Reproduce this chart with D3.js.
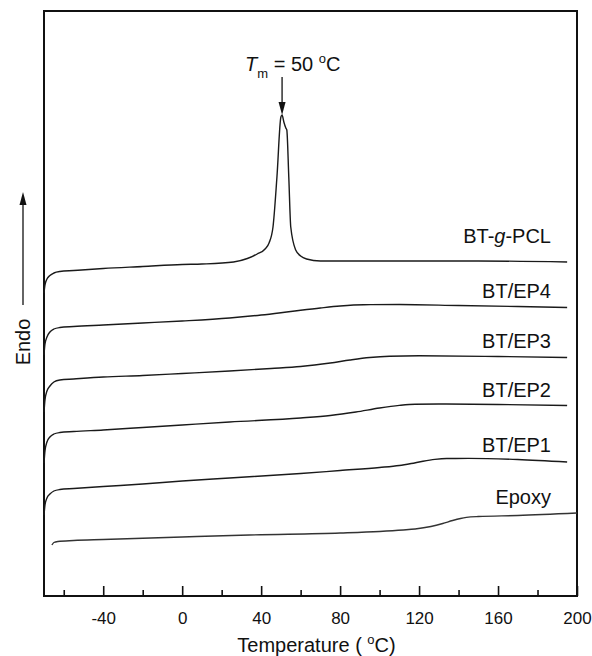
<!DOCTYPE html>
<html>
<head>
<meta charset="utf-8">
<script src="https://cdn.jsdelivr.net/npm/d3@7"></script>
<style>
  body { margin: 0; background: #fff; }
  text, tspan { font-family: "Liberation Sans", Arial, sans-serif; fill: #111; }
</style>
</head>
<body>
<div id="chart"></div>
<script>
// DSC traces, heat flow in arbitrary units (offset stacked), temperature in degC
const pclTemp = [-70, -69.5, -68.5, -67, -65, -62, -55, -40, -20, 0, 10, 26, 33, 38, 42, 44, 46, 48, 50, 50.6, 51.5, 52.5, 53, 54, 55, 57.5, 60, 63, 70, 100, 150, 195];
const pclFlow = [303, 311, 317, 320.5, 323, 324.5, 325.5, 327.5, 329.5, 331.5, 332, 334, 337.5, 342, 347, 353, 369, 419, 479, 481, 474, 468, 466, 419, 369, 346, 340, 337, 335, 335, 335, 334];

const ep4Temp = [-70, -69.5, -68.5, -67, -65, -62, -55, -40, -20, 0, 24, 40, 55, 70, 80, 92, 110, 140, 170, 195];
const ep4Flow = [241, 252, 259, 264, 267, 268.5, 269.5, 271, 273, 275, 278, 281, 284.5, 288, 290, 291.3, 291.5, 290.5, 289.5, 288.5];

const ep3Temp = [-70, -69.5, -68.5, -67, -65, -62, -55, -40, -20, 0, 24, 45, 60, 75, 85, 95, 105, 120, 160, 195];
const ep3Flow = [184, 196, 205, 210, 214, 216, 217, 219, 220.5, 222.5, 225, 227.5, 229.5, 233, 236, 238.5, 239.8, 240.2, 239.5, 238.5];

const ep2Temp = [-70, -69.5, -68.5, -67, -65, -62, -55, -40, -20, 0, 24, 60, 75, 88, 100, 110, 118, 130, 160, 195];
const ep2Flow = [133, 145, 154, 159, 162, 163.5, 164.5, 166, 168.5, 171, 174, 178, 180.5, 184, 188, 190.6, 191.8, 192, 191.5, 190.5];

const ep1Temp = [-70, -69.5, -68.5, -67, -65, -62, -55, -40, -20, 0, 24, 60, 80, 100, 110, 116, 122, 128, 134, 145, 170, 195];
const ep1Flow = [81, 91, 98, 102, 105, 106.5, 107.5, 109.5, 112, 115, 118, 122.5, 125.5, 128.5, 130.5, 132.5, 134.8, 136.6, 137.5, 137.6, 136.5, 134];

const epoxyTemp = [-66, -65, -63, -55, -40, 0, 34, 80, 100, 112, 118, 126, 132, 137, 141, 144, 150, 170, 200];
const epoxyFlow = [51, 53.5, 54.5, 55.5, 56.5, 59, 61, 63, 64.5, 66, 67, 69.5, 72.5, 75.5, 77.5, 78.6, 79.5, 80.5, 83];

const seriesNames = ["BT-g-PCL", "BT/EP4", "BT/EP3", "BT/EP2", "BT/EP1", "Epoxy"];
const majorTicks = [-40, 0, 40, 80, 120, 160, 200];
const minorTicks = [-60, -20, 20, 60, 100, 140, 180];
const meltTemp = 50;

const series = [
  {name: seriesNames[0], temp: pclTemp, flow: pclFlow},
  {name: seriesNames[1], temp: ep4Temp, flow: ep4Flow},
  {name: seriesNames[2], temp: ep3Temp, flow: ep3Flow},
  {name: seriesNames[3], temp: ep2Temp, flow: ep2Flow},
  {name: seriesNames[4], temp: ep1Temp, flow: ep1Flow},
  {name: seriesNames[5], temp: epoxyTemp, flow: epoxyFlow}
];
// gap between end of trace and label baseline (px)
const labelGap = [19, 10, 10, 9, 10, 11];

const width = 592, height = 656;
const margin = {top: 11, right: 15, bottom: 60, left: 44};

const svg = d3.select("#chart").append("svg")
    .attr("width", width)
    .attr("height", height);

const x = d3.scaleLinear().domain([-70, 200]).range([margin.left, width - margin.right]);
const y = d3.scaleLinear().domain([0, 585]).range([height - margin.bottom, margin.top]);

// major ticks (inward) with labels
const xAxis = svg.append("g")
    .attr("transform", `translate(0,${height - margin.bottom})`)
    .call(d3.axisBottom(x).tickValues(majorTicks).tickSize(-10).tickSizeOuter(0)
        .tickPadding(8).tickFormat(d => String(d)));
xAxis.select(".domain").remove();
xAxis.selectAll(".tick line").attr("stroke", "#111").attr("stroke-width", 1.6);
xAxis.selectAll(".tick text").attr("dy", "1.15em")
    .style("font-size", "17px").style("font-family", '"Liberation Sans", Arial, sans-serif').attr("fill", "#111");

// minor ticks
const xMinor = svg.append("g")
    .attr("transform", `translate(0,${height - margin.bottom})`)
    .call(d3.axisBottom(x).tickValues(minorTicks).tickSize(-6).tickSizeOuter(0).tickFormat(""));
xMinor.select(".domain").remove();
xMinor.selectAll(".tick line").attr("stroke", "#111").attr("stroke-width", 1.6);

// frame
svg.append("rect")
    .attr("x", margin.left)
    .attr("y", margin.top)
    .attr("width", width - margin.left - margin.right)
    .attr("height", height - margin.top - margin.bottom)
    .attr("fill", "none")
    .attr("stroke", "#111")
    .attr("stroke-width", 2);

// traces
const line = d3.line()
    .x(d => x(d[0]))
    .y(d => y(d[1]))
    .curve(d3.curveMonotoneX);

series.forEach((s, i) => {
  const pts = s.temp.map((t, j) => [t, s.flow[j]]);
  svg.append("path")
      .datum(pts)
      .attr("fill", "none")
      .attr("stroke", i === 5 ? "#333" : "#1a1a1a")
      .attr("stroke-width", 1.4)
      .attr("d", line);

  const last = pts[pts.length - 1];
  const lbl = svg.append("text")
      .attr("x", 551)
      .attr("y", y(i === 5 ? 81 : last[1]) - labelGap[i])
      .attr("text-anchor", "end")
      .style("font-size", "20px");
  if (s.name === "BT-g-PCL") {
    lbl.append("tspan").text("BT-");
    lbl.append("tspan").style("font-style", "italic").text("g");
    lbl.append("tspan").text("-PCL");
  } else {
    lbl.text(s.name);
  }
});

// Tm annotation
const peakY = y(d3.max(pclFlow));
const peakX = x(pclTemp[pclFlow.indexOf(d3.max(pclFlow))]);
svg.append("line")
    .attr("x1", peakX).attr("x2", peakX)
    .attr("y1", peakY - 38).attr("y2", peakY - 10)
    .attr("stroke", "#111").attr("stroke-width", 1.3);
svg.append("path")
    .attr("d", `M${peakX},${peakY} L${peakX - 3.5},${peakY - 13} L${peakX + 3.5},${peakY - 13} Z`)
    .attr("fill", "#111");

const tm = svg.append("text")
    .attr("x", peakX - 37)
    .attr("y", peakY - 44)
    .style("font-size", "20px");
tm.append("tspan").style("font-style", "italic").text("T");
tm.append("tspan").attr("dy", 7).style("font-size", "13px").text("m");
tm.append("tspan").attr("dy", -7).text(" = " + meltTemp + " ");
tm.append("tspan").attr("dy", -8).style("font-size", "13px").text("o");
tm.append("tspan").attr("dy", 8).text("C");

// x label
const xl = svg.append("text")
    .attr("x", (margin.left + width - margin.right) / 2 + 6)
    .attr("y", 652)
    .attr("text-anchor", "middle")
    .style("font-size", "20px");
xl.append("tspan").text("Temperature ( ");
xl.append("tspan").attr("dy", -8).style("font-size", "13px").text("o");
xl.append("tspan").attr("dy", 8).text("C)");

// Endo arrow
svg.append("line")
    .attr("x1", 23).attr("x2", 23)
    .attr("y1", 305).attr("y2", 200)
    .attr("stroke", "#111").attr("stroke-width", 1.3);
svg.append("path")
    .attr("d", "M23,192 L19.5,205 L26.5,205 Z")
    .attr("fill", "#111");
svg.append("text")
    .attr("transform", "translate(30,342) rotate(-90)")
    .attr("text-anchor", "middle")
    .style("font-size", "20px")
    .text("Endo");
</script>
</body>
</html>
